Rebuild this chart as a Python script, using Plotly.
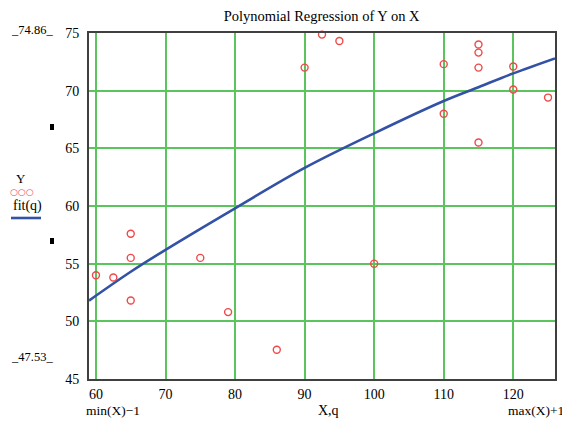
import plotly.graph_objects as go

# Observed data (Y vs X)
x_data = [60, 62.5, 65, 65, 65, 75, 79, 86, 90, 92.5, 95, 100, 110, 110, 115, 115, 115, 115, 120, 120, 125]
y_data = [54.0, 53.8, 57.6, 55.5, 51.8, 55.5, 50.8, 47.53, 72.0, 74.86, 74.3, 55.0, 72.3, 68.0, 74.0, 73.3, 72.0, 65.5, 72.1, 70.1, 69.4]

# Fitted polynomial curve fit(q)
q_vals = [59, 65, 70, 80, 90, 100, 110, 115, 120, 126]
fit_vals = [51.8, 54.3, 56.2, 59.8, 63.3, 66.3, 69.1, 70.3, 71.5, 72.8]

x_ticks = [60, 70, 80, 90, 100, 110, 120]
y_ticks = [45, 50, 55, 60, 65, 70, 75]

SERIF = "Liberation Serif"
GRID = "#5cc45c"
FRAME = "#404040"

# page body has an 8px margin; figure is sized to fit inside the window
OFF = 8
W, H = 570 - OFF, 425 - OFF
ML, MR, MT, MB = 89 - OFF, 15, 33 - OFF, 46

fig = go.Figure()
fig.add_trace(go.Scatter(
    x=q_vals, y=fit_vals, mode="lines", line=dict(color="#3352a6", width=2.6, shape="spline"),
    showlegend=False, hoverinfo="skip"))
fig.add_trace(go.Scatter(
    x=x_data, y=y_data, mode="markers",
    marker=dict(symbol="circle-open", size=7, color="#f04848", line=dict(width=1.4)),
    showlegend=False, cliponaxis=False))

fig.update_layout(
    width=W, height=H,
    margin=dict(l=ML, r=MR, t=MT, b=MB),
    paper_bgcolor="white", plot_bgcolor="white",
    font=dict(family=SERIF, size=14, color="black"),
    title=dict(text="Polynomial Regression of Y on X", x=0.558, xanchor="center",
               y=1 - (16 - OFF) / H, yanchor="middle", font=dict(family=SERIF, size=14.5, color="black")),
    xaxis=dict(range=[59, 126], tickvals=x_ticks, showgrid=True, gridcolor=GRID, gridwidth=1.6,
               zeroline=False, showline=True, linecolor=FRAME, linewidth=2, mirror=True,
               ticks="", ticklabelstandoff=1, tickfont=dict(family=SERIF, size=14)),
    yaxis=dict(range=[45, 75], tickvals=y_ticks, showgrid=True, gridcolor=GRID, gridwidth=1.6,
               zeroline=False, showline=True, linecolor=FRAME, linewidth=2, mirror=True,
               ticks="", ticklabelstandoff=5, tickfont=dict(family=SERIF, size=14)),
)

PL, PB, PW, PH = 89, 46, 466, 346
def px(xp):
    return (xp - PL) / PW
def py(yp):
    return (425 - PB - yp) / PH

def note(text, x, y, xanchor="left", size=12, color="black", family=SERIF):
    fig.add_annotation(text=text, x=px(x), y=py(y), xref="paper", yref="paper",
                       xanchor=xanchor, yanchor="middle", showarrow=False,
                       font=dict(family=family, size=size, color=color))

note("_74.86_", 9, 30, size=12.5)
note("_47.53_", 9, 357, size=12.5)
note("Y", 14, 179, size=13)
note("○○○", 8, 192, size=9, color="#f04848", family="DejaVu Sans")
note("fit(q)", 11, 206, size=14)
note("min(X)\u22121", 84, 410, size=13.5)
note("X,q", 328, 410, xanchor="center", size=14)
note("max(X)+1", 566, 410, xanchor="right", size=13.5)

# legend line for fit(q)
fig.add_shape(type="line", xref="paper", yref="paper", x0=px(11), x1=px(41), y0=py(218), y1=py(218),
              line=dict(color="#3352a6", width=2.6))
# small black markers
for yy in (127, 241):
    fig.add_shape(type="rect", xref="paper", yref="paper", x0=px(50), x1=px(54), y0=py(yy - 3), y1=py(yy + 3),
                  fillcolor="black", line=dict(width=0))

fig.write_html("out.html")
